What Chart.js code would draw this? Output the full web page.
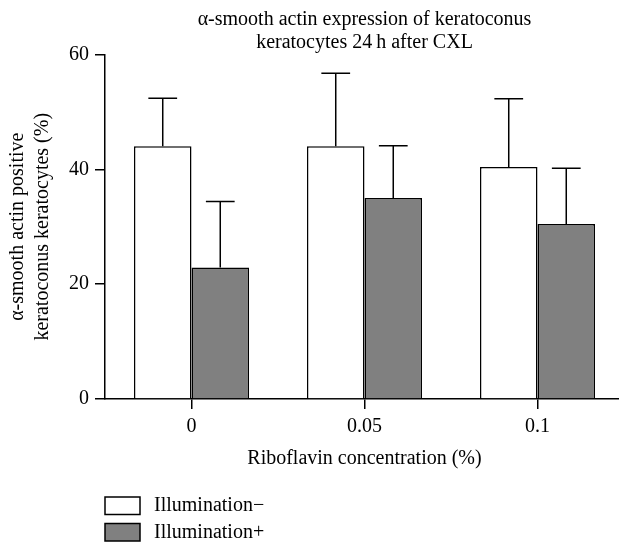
<!DOCTYPE html>
<html>
<head>
<meta charset="utf-8">
<script src="https://cdn.jsdelivr.net/npm/chart.js@4"></script>
<style>
  html, body { margin: 0; padding: 0; background: #fff; overflow: hidden; }
  canvas { display: block; }
</style>
</head>
<body>
<canvas id="chart" width="624" height="545"></canvas>
<script>
// valores
const concentrations = ['0', '0.05', '0.1'];
const seriesLabels = ['Illumination\u2212', 'Illumination+'];
const illumOff = [44.0, 44.0, 40.4];
const illumOn = [22.9, 35.0, 30.5];
const illumOffErr = [8.4, 12.75, 11.9];
const illumOnErr = [11.5, 9.1, 9.7];
const yTicks = [0, 20, 40, 60];

const titleLines = ['\u03b1-smooth actin expression of keratoconus', 'keratocytes 24\u2009h after CXL'];
const yTitleLines = ['\u03b1-smooth actin positive', 'keratoconus keratocytes (%)'];
const xTitle = 'Riboflavin concentration (%)';

const fontFamily = '"Liberation Serif", "DejaVu Serif", serif';

// barras de erro (só para cima, com traço horizontal)
const errorBars = {
  id: 'errorBars',
  afterDatasetsDraw(chart) {
    const { ctx } = chart;
    const y = chart.scales.y;
    chart.data.datasets.forEach((ds, di) => {
      const meta = chart.getDatasetMeta(di);
      meta.data.forEach((bar, i) => {
        const top = y.getPixelForValue(ds.data[i] + ds.errors[i]);
        const half = bar.width / 4;
        ctx.save();
        ctx.strokeStyle = '#000';
        ctx.lineWidth = 1.5;
        ctx.beginPath();
        ctx.moveTo(bar.x, bar.y);
        ctx.lineTo(bar.x, top);
        ctx.moveTo(bar.x - half, top);
        ctx.lineTo(bar.x + half, top);
        ctx.stroke();
        ctx.restore();
      });
    });
  }
};

// legenda vertical embaixo, à esquerda
const boxLegend = {
  id: 'boxLegend',
  afterDraw(chart) {
    const { ctx } = chart;
    const x0 = 105, y0 = 497, boxW = 35, boxH = 17.5, rowH = 26.5;
    ctx.save();
    ctx.font = '20px ' + fontFamily;
    ctx.textBaseline = 'middle';
    ctx.textAlign = 'left';
    chart.data.datasets.forEach((ds, i) => {
      const yy = y0 + i * rowH;
      ctx.fillStyle = ds.backgroundColor;
      ctx.fillRect(x0, yy, boxW, boxH);
      ctx.strokeStyle = '#000';
      ctx.lineWidth = 1.5;
      ctx.strokeRect(x0, yy, boxW, boxH);
      ctx.fillStyle = '#000';
      ctx.fillText(ds.label, x0 + 49, yy + boxH / 2);
    });
    ctx.restore();
  }
};

new Chart(document.getElementById('chart').getContext('2d'), {
  type: 'bar',
  data: {
    labels: concentrations,
    datasets: [
      {
        label: seriesLabels[0],
        data: illumOff,
        errors: illumOffErr,
        backgroundColor: '#ffffff',
        borderColor: '#000',
        borderWidth: 1.5,
        borderSkipped: 'bottom'
      },
      {
        label: seriesLabels[1],
        data: illumOn,
        errors: illumOnErr,
        backgroundColor: '#808080',
        borderColor: '#000',
        borderWidth: 1.5,
        borderSkipped: 'bottom'
      }
    ]
  },
  options: {
    responsive: false,
    animation: false,
    devicePixelRatio: 1,
    layout: { padding: { left: 0, right: 0, top: 0, bottom: 71 } },
    datasets: { bar: { barPercentage: 1, categoryPercentage: 0.665 } },
    plugins: {
      legend: { display: false },
      tooltip: { enabled: false },
      title: {
        display: true,
        fullSize: false,
        text: titleLines,
        color: '#000',
        font: { family: fontFamily, size: 20, weight: 'normal', lineHeight: 1.15 },
        padding: { top: 8.5, bottom: 0 }
      }
    },
    scales: {
      x: {
        offset: true,
        grid: { display: true, offset: false, drawOnChartArea: false, drawTicks: true, tickLength: 10, color: '#000', lineWidth: 1.5 },
        border: { display: true, color: '#000', width: 1.5 },
        ticks: { color: '#000', font: { family: fontFamily, size: 20, lineHeight: 1.2 }, padding: 6, maxRotation: 0 },
        title: {
          display: true,
          text: xTitle,
          color: '#000',
          font: { family: fontFamily, size: 20, lineHeight: 1.2 },
          padding: { top: 0, bottom: 3 }
        },
        afterFit: (s) => { s.height = 75; }
      },
      y: {
        min: 0,
        max: 60,
        afterBuildTicks: (s) => { s.ticks = yTicks.map(v => ({ value: v })); },
        grid: { display: true, drawOnChartArea: false, drawTicks: true, tickLength: 10, color: '#000', lineWidth: 1.5 },
        border: { display: true, color: '#000', width: 1.5 },
        ticks: { color: '#000', font: { family: fontFamily, size: 20 }, padding: 6 },
        title: {
          display: true,
          text: yTitleLines,
          color: '#000',
          font: { family: fontFamily, size: 20, lineHeight: 1.25 },
          padding: { top: 5.5, bottom: 0 }
        },
        afterFit: (s) => { s.width = 105; }
      }
    }
  },
  plugins: [errorBars, boxLegend]
});
</script>
</body>
</html>
